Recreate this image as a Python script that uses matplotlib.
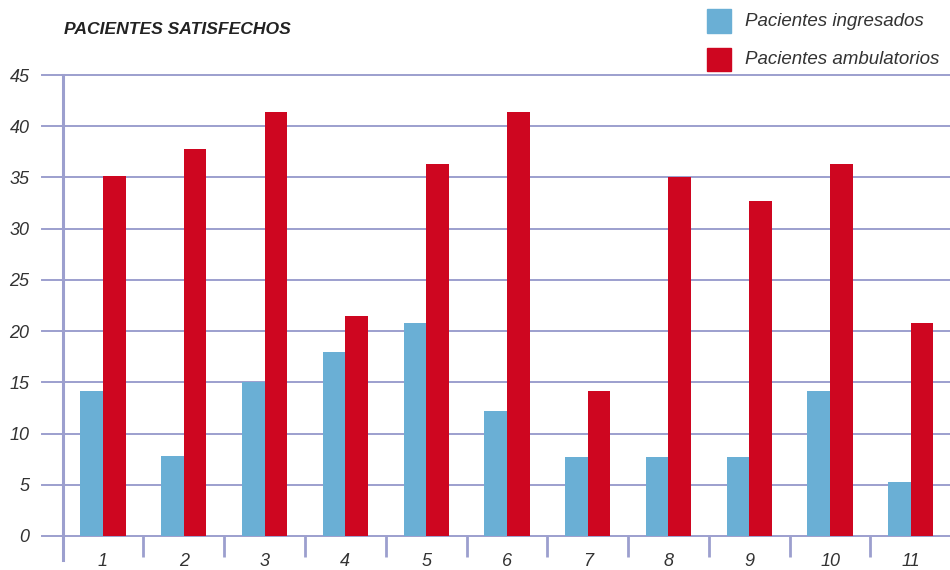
import matplotlib.pyplot as plt
from matplotlib.patches import Rectangle
import numpy as np

# satisfied patients per service
categories = ["1", "2", "3", "4", "5", "6", "7", "8", "9", "10", "11"]
ingresados = [14.2, 7.8, 15.0, 18.0, 20.8, 12.2, 7.7, 7.7, 7.7, 14.2, 5.3]
ambulatorios = [35.1, 37.8, 41.4, 21.5, 36.3, 41.4, 14.2, 35.0, 32.7, 36.3, 20.8]
series_names = ["Pacientes ingresados", "Pacientes ambulatorios"]

BLUE = "#6aafd5"
RED = "#ce0620"
GRID = "#9c9fce"
TXT = "#333333"

plt.rcParams['font.family'] = ['Liberation Sans', 'DejaVu Sans']

W, H = 950, 570
fig = plt.figure(figsize=(W / 100, H / 100), dpi=100)
# axes from x=42px to right edge, y from 536px (zero) up to 75px (45)
ax = fig.add_axes([42 / W, (H - 536) / H, (W - 42) / W, (536 - 75) / H])

x = np.arange(len(categories))
bw = 0.28
ax.bar(x - bw / 2, ingresados, width=bw, color=BLUE, zorder=3)
ax.bar(x + bw / 2, ambulatorios, width=bw, color=RED, zorder=3)

ax.set_xlim(-0.755, 10.485)
ax.set_ylim(0, 45)

# horizontal grid lines, incl. the top one at 45
for v in range(0, 46, 5):
    ax.axhline(v, color=GRID, lw=1.4, zorder=1, clip_on=False)

# vertical axis line, running below the baseline
ax.plot([-0.49, -0.49], [45, -2.3], color=GRID, lw=2.2, zorder=4, clip_on=False)

for s in ax.spines.values():
    s.set_visible(False)

# y labels
ax.set_yticks(range(0, 46, 5))
ax.set_yticklabels([str(v) for v in range(0, 46, 5)], fontsize=13,
                   fontstyle='italic', color=TXT)
ax.tick_params(axis='y', length=0, pad=9)
for lab in ax.get_yticklabels():
    lab.set_verticalalignment('center_baseline')

# separators between categories below the baseline, labels centred
ax.set_xticks(x[:-1] + 0.5)
ax.set_xticklabels([])
ax.tick_params(axis='x', which='major', length=15, width=2, color=GRID,
               direction='out')
ax.set_xticks(x, minor=True)
ax.set_xticklabels(categories, minor=True, fontsize=13, fontstyle='italic',
                   color=TXT)
ax.tick_params(axis='x', which='minor', length=0, pad=12)

fig.text(64 / W, 1 - 29 / H, "PACIENTES SATISFECHOS", fontsize=12.6,
         fontweight='bold', fontstyle='italic', color="#222222",
         ha='left', va='center')

# legend
for i, (name, col) in enumerate(zip(series_names, [BLUE, RED])):
    yc = 21 + i * 38
    fig.add_artist(Rectangle((707 / W, 1 - (yc + 11.5) / H), 24 / W, 23 / H,
                             transform=fig.transFigure, color=col))
    fig.text(745 / W, 1 - yc / H, name, fontsize=13.5, fontstyle='italic',
             color=TXT, ha='left', va='center')

fig.savefig("out.png", dpi=100)
